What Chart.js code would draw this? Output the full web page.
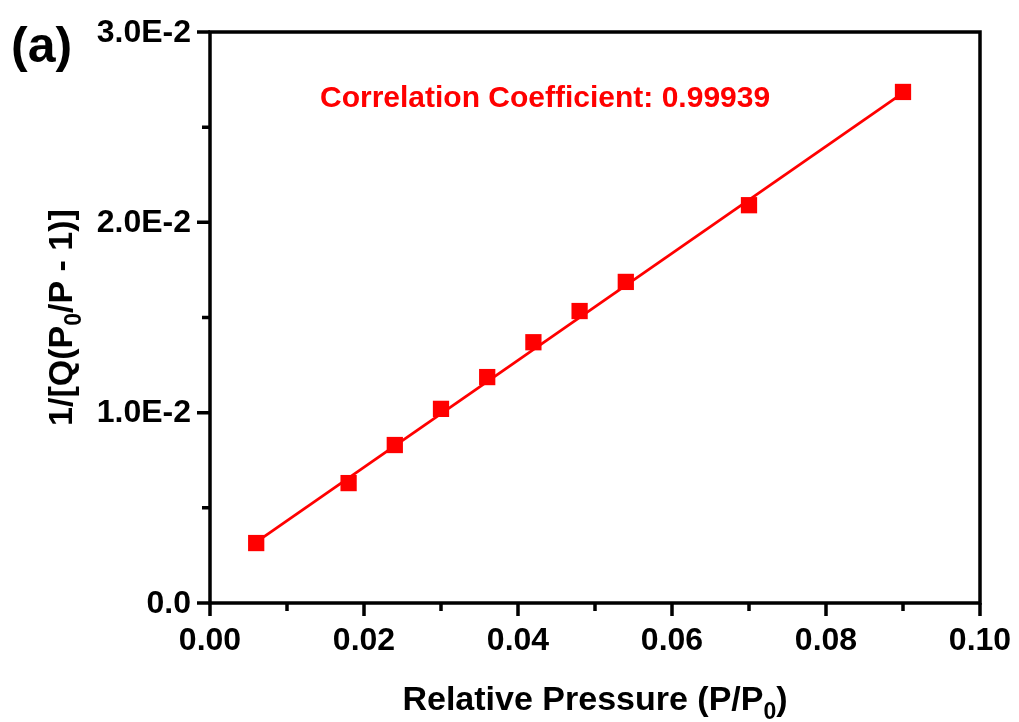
<!DOCTYPE html>
<html>
<head>
<meta charset="utf-8">
<script src="https://cdn.jsdelivr.net/npm/chart.js@4.4.1/dist/chart.umd.min.js"></script>
<style>
  html, body { margin: 0; padding: 0; background: #fff; }
  #wrap { width: 1019px; height: 722px; }
</style>
</head>
<body>
<div id="wrap"><canvas id="bet"></canvas></div>
<script>
// measured points (P/P0 vs 1/[Q(P0/P - 1)])
const pressure = [0.006, 0.018, 0.024, 0.030, 0.036, 0.042, 0.048, 0.054, 0.070, 0.090];
const betValue = [0.00315, 0.0063, 0.0083, 0.0102, 0.01187, 0.0137, 0.01534, 0.01687, 0.0209, 0.02685];
// fitted line ends
const fitX = [0.006, 0.090];
const fitY = [0.0032, 0.0268];
const xMajor = [0, 0.02, 0.04, 0.06, 0.08, 0.10];
const xMinor = [0.01, 0.03, 0.05, 0.07, 0.09];
const xLabels = ['0.00', '0.02', '0.04', '0.06', '0.08', '0.10'];
const yMajor = [0, 0.01, 0.02, 0.03];
const yMinor = [0.005, 0.015, 0.025];
const yLabels = ['0.0', '1.0E-2', '2.0E-2', '3.0E-2'];
const corrText = 'Correlation Coefficient: 0.99939';

const RED = '#ff0000';
const FONT = '"Liberation Sans", Arial, sans-serif';

function toPts(xs, ys) {
    return xs.map(function(x, i) { return { x: x, y: ys[i] }; });
}

// text with a lowered "0" in the middle, e.g. P0
function subText(ctx, parts, x, y, big, small) {
    ctx.font = big;
    var w0 = ctx.measureText(parts[0]).width;
    var w2 = ctx.measureText(parts[2]).width;
    ctx.font = small;
    var w1 = ctx.measureText(parts[1]).width;
    var start = x - (w0 + w1 + w2) / 2;
    ctx.font = big; ctx.fillText(parts[0], start, y);
    ctx.font = small; ctx.fillText(parts[1], start + w0, y + 9);
    ctx.font = big; ctx.fillText(parts[2], start + w0 + w1, y);
}

// frame, tick marks, tick labels, titles, notes
const decorations = {
    id: 'decorations',
    afterDraw: function(chart) {
        var ctx = chart.ctx;
        var a = chart.chartArea;
        var xs = chart.scales.x, ys = chart.scales.y;
        ctx.save();
        ctx.strokeStyle = '#000';
        ctx.lineWidth = 3.5;
        ctx.strokeRect(a.left, a.top, a.right - a.left, a.bottom - a.top);

        ctx.beginPath();
        xMajor.forEach(function(v) {
            var px = xs.getPixelForValue(v);
            ctx.moveTo(px, a.bottom); ctx.lineTo(px, a.bottom + 13);
        });
        xMinor.forEach(function(v) {
            var px = xs.getPixelForValue(v);
            ctx.moveTo(px, a.bottom); ctx.lineTo(px, a.bottom + 8);
        });
        yMajor.forEach(function(v) {
            var py = ys.getPixelForValue(v);
            ctx.moveTo(a.left, py); ctx.lineTo(a.left - 13, py);
        });
        yMinor.forEach(function(v) {
            var py = ys.getPixelForValue(v);
            ctx.moveTo(a.left, py); ctx.lineTo(a.left - 8, py);
        });
        ctx.stroke();

        ctx.fillStyle = '#000';
        var tickFont = 'bold 32px ' + FONT;
        ctx.font = tickFont;
        ctx.textAlign = 'center';
        ctx.textBaseline = 'alphabetic';
        xMajor.forEach(function(v, i) {
            ctx.fillText(xLabels[i], xs.getPixelForValue(v), 650);
        });
        ctx.textAlign = 'right';
        ctx.textBaseline = 'middle';
        yMajor.forEach(function(v, i) {
            ctx.fillText(yLabels[i], 191, ys.getPixelForValue(v) + 1);
        });

        ctx.textAlign = 'left';
        ctx.textBaseline = 'alphabetic';
        var big = 'bold 34px ' + FONT, sub = 'bold 23px ' + FONT;
        subText(ctx, ['Relative Pressure (P/P', '0', ')'], (a.left + a.right) / 2, 710, big, sub);

        ctx.save();
        ctx.translate(72, (a.top + a.bottom) / 2);
        ctx.rotate(-Math.PI / 2);
        subText(ctx, ['1/[Q(P', '0', '/P - 1)]'], 0, 0, big, sub);
        ctx.restore();

        ctx.font = 'bold 50px ' + FONT;
        ctx.fillText('(a)', 11, 62);

        ctx.fillStyle = RED;
        ctx.font = 'bold 30px ' + FONT;
        ctx.fillText(corrText, 320, 107);
        ctx.restore();
    }
};

var ctx = document.getElementById('bet').getContext('2d');
var chart = new Chart(ctx, {
    type: 'scatter',
    data: {
        datasets: [{
            label: 'data',
            data: toPts(pressure, betValue),
            showLine: false,
            pointStyle: 'rect',
            pointRadius: 11.5,
            pointHoverRadius: 11.5,
            backgroundColor: RED,
            borderColor: RED,
            borderWidth: 0,
            order: 1
        }, {
            label: 'fit',
            data: toPts(fitX, fitY),
            showLine: true,
            pointRadius: 0,
            borderColor: RED,
            borderWidth: 2.8,
            order: 2
        }]
    },
    options: {
        responsive: true,
        maintainAspectRatio: false,
        animation: false,
        layout: { padding: { top: 32, right: 39, left: 0, bottom: 0 } },
        plugins: {
            legend: { display: false },
            tooltip: { enabled: false }
        },
        scales: {
            x: {
                type: 'linear',
                min: 0,
                max: 0.1,
                grid: { display: false },
                border: { display: false },
                ticks: { display: false, stepSize: 0.02 },
                afterFit: function(s) { s.height = 119; }
            },
            y: {
                type: 'linear',
                min: 0,
                max: 0.03,
                grid: { display: false },
                border: { display: false },
                ticks: { display: false, stepSize: 0.01 },
                afterFit: function(s) { s.width = 210; }
            }
        }
    },
    plugins: [decorations]
});
</script>
</body>
</html>
